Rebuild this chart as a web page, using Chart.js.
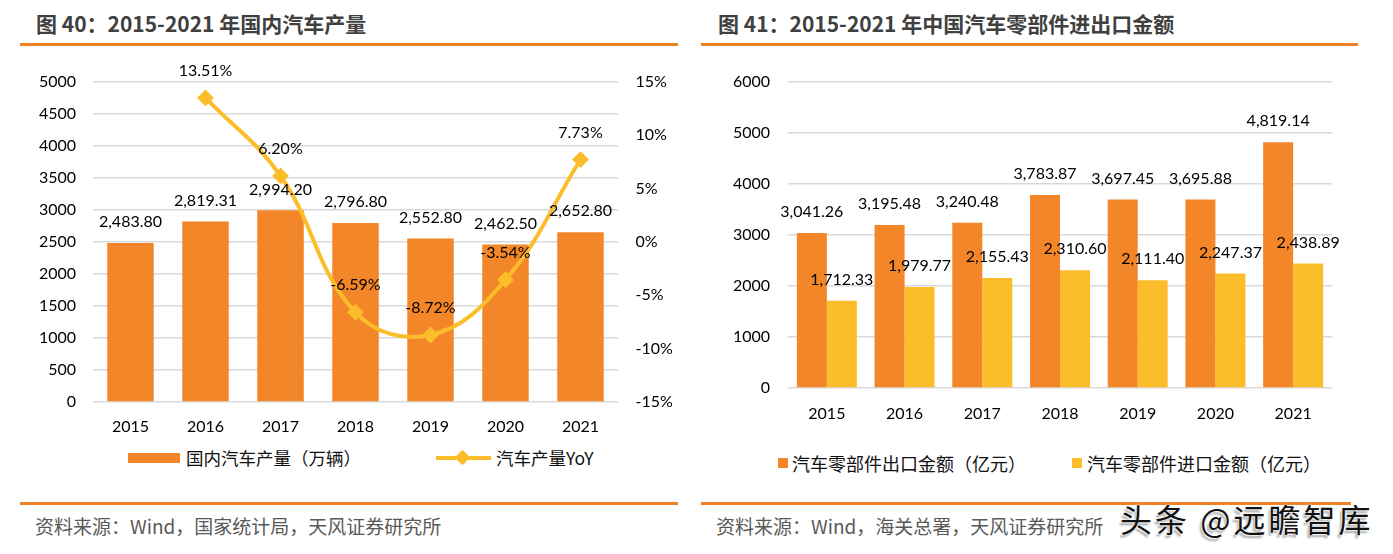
<!DOCTYPE html>
<html>
<head>
<meta charset="utf-8">
<script src="https://cdn.jsdelivr.net/npm/chart.js@4.4.1/dist/chart.umd.min.js"></script>
<style>
  html, body { margin: 0; padding: 0; background: #fff; }
  body { width: 1393px; height: 554px; position: relative; overflow: hidden; font-family: "Noto Sans CJK SC", sans-serif; }
  .abs { position: absolute; white-space: nowrap; }
  .title { font-size: 21px; font-weight: bold; color: #404040; height: 30px; line-height: 30px; }
  .rule { position: absolute; height: 3px; background: #F08226; }
  .src { font-size: 19px; color: #595959; height: 28px; line-height: 28px; }
  .leg { font-size: 17.5px; color: #111; height: 26px; line-height: 26px; }
  canvas { position: absolute; }
  .wm { font-size: 32px; color: #111; letter-spacing: 3px; height: 40px; line-height: 40px;
        text-shadow: 0 0 2px #fff, 0 0 2px #fff, -2px 3px 2px rgba(0,0,0,0.35); }
</style>
</head>
<body>
<div class="abs title" style="left:36px; top:8px;">图 40：2015-2021 年国内汽车产量</div>
<div class="abs title" style="left:718px; top:8px;">图 41：2015-2021 年中国汽车零部件进出口金额</div>
<div class="rule" style="left:20px; width:658px; top:43px;"></div>
<div class="rule" style="left:701px; width:657px; top:43px;"></div>

<canvas id="c1" width="690" height="445" style="left:0; top:0;"></canvas>
<canvas id="c2" width="693" height="440" style="left:700px; top:0;"></canvas>

<!-- left legend -->
<div class="abs" style="left:128px; top:453px; width:52px; height:10px; background:#F4862A;"></div>
<div class="abs leg" style="left:186px; top:445px;">国内汽车产量（万辆）</div>
<div class="abs" style="left:436px; top:456px; width:55px; height:4px; background:#FCBD2B;"></div>
<div class="abs" style="left:457px; top:452px; width:11px; height:11px; background:#FCBD2B; transform:rotate(45deg);"></div>
<div class="abs leg" style="left:496px; top:445px;">汽车产量YoY</div>

<!-- right legend -->
<div class="abs" style="left:778px; top:458px; width:10px; height:10px; background:#F4862A;"></div>
<div class="abs leg" style="left:792px; top:450px; font-size:18px;">汽车零部件出口金额（亿元）</div>
<div class="abs" style="left:1072px; top:458px; width:10px; height:10px; background:#FCBD2B;"></div>
<div class="abs leg" style="left:1087px; top:450px; font-size:18px;">汽车零部件进口金额（亿元）</div>

<div class="rule" style="left:20px; width:658px; top:502px;"></div>
<div class="rule" style="left:701px; width:650px; top:502px;"></div>

<div class="abs src" style="left:35px; top:512px;">资料来源：Wind，国家统计局，天风证券研究所</div>
<div class="abs src" style="left:716px; top:512px;">资料来源：Wind，海关总署，天风证券研究所</div>

<div class="abs wm" style="left:1120px; top:498px;">头条 @远瞻智库</div>

<script>
// ---------- data ----------
const years = ['2015', '2016', '2017', '2018', '2019', '2020', '2021'];
const productionName = '国内汽车产量（万辆）';
const production = [2483.80, 2819.31, 2994.20, 2796.80, 2552.80, 2462.50, 2652.80];
const yoyName = '汽车产量YoY';
const yoy = [null, 13.51, 6.20, -6.59, -8.72, -3.54, 7.73];
const exportName = '汽车零部件出口金额（亿元）';
const exportValues = [3041.26, 3195.48, 3240.48, 3783.87, 3697.45, 3695.88, 4819.14];
const importName = '汽车零部件进口金额（亿元）';
const importValues = [1712.33, 1979.77, 2155.43, 2310.60, 2111.40, 2247.37, 2438.89];
const leftTicks = { min: 0, max: 5000, step: 500 };
const pctTicks = { min: -15, max: 15, step: 5 };
const rightTicks = { min: 0, max: 6000, step: 1000 };

// ---------- styling ----------
const ORANGE = '#F4862A';
const YELLOW = '#FCBD2B';
const GRID = '#D9D9D9';
const FONT = 'Lato, "Noto Sans CJK SC", sans-serif';

Chart.defaults.font.family = FONT;
Chart.defaults.font.size = 16;
Chart.defaults.color = '#000';

const numFmt = new Intl.NumberFormat('en-US', { minimumFractionDigits: 2, maximumFractionDigits: 2 });

const valueLabels = {
  id: 'valueLabels',
  afterDatasetsDraw(chart) {
    const ctx = chart.ctx;
    chart.data.datasets.forEach((ds, i) => {
      const meta = chart.getDatasetMeta(i);
      const isLine = meta.type === 'line';
      meta.data.forEach((el, j) => {
        const v = ds.data[j];
        if (v === null || v === undefined) return;
        const txt = isLine ? v.toFixed(2) + '%' : numFmt.format(v);
        const off = isLine ? 27 : 21;
        ctx.save();
        ctx.font = '16px ' + FONT;
        ctx.fillStyle = '#000';
        ctx.textAlign = 'center';
        ctx.textBaseline = 'middle';
        ctx.fillText(txt, el.x, el.y - off);
        ctx.restore();
      });
    });
  }
};

// ---------- left chart ----------
new Chart(document.getElementById('c1'), {
  data: {
    labels: years,
    datasets: [
      {
        type: 'line', label: yoyName, data: yoy, yAxisID: 'y1', order: 0,
        borderColor: YELLOW, backgroundColor: YELLOW, borderWidth: 4,
        pointStyle: 'rectRot', pointRadius: 7, pointBorderWidth: 2,
        pointBackgroundColor: YELLOW, pointBorderColor: YELLOW,
        tension: 0.4, cubicInterpolationMode: 'default'
      },
      {
        type: 'bar', label: productionName, data: production, yAxisID: 'y', order: 1,
        backgroundColor: ORANGE, barPercentage: 0.62, categoryPercentage: 1
      }
    ]
  },
  options: {
    responsive: false, animation: false, devicePixelRatio: 1,
    layout: { padding: { top: 82, left: 0, right: 0, bottom: 0 } },
    plugins: { legend: { display: false }, tooltip: { enabled: false } },
    scales: {
      x: {
        grid: { display: false }, border: { display: false },
        ticks: { padding: 7.5, color: '#000' },
        afterFit: s => { s.height = 43; }
      },
      y: {
        position: 'left', min: leftTicks.min, max: leftTicks.max,
        ticks: { stepSize: leftTicks.step, padding: 17, color: '#000', callback: v => String(v) },
        grid: { color: GRID, lineWidth: 1.5, drawTicks: false }, border: { display: false },
        afterFit: s => { s.width = 93; }
      },
      y1: {
        position: 'right', min: pctTicks.min, max: pctTicks.max,
        ticks: { stepSize: pctTicks.step, padding: 17.5, color: '#000', callback: v => v + '%' },
        grid: { display: false, drawTicks: false }, border: { display: false },
        afterFit: s => { s.width = 72; }
      }
    }
  },
  plugins: [valueLabels]
});

// ---------- right chart ----------
new Chart(document.getElementById('c2'), {
  type: 'bar',
  data: {
    labels: years,
    datasets: [
      { label: exportName, data: exportValues, backgroundColor: ORANGE, barPercentage: 1, categoryPercentage: 0.772 },
      { label: importName, data: importValues, backgroundColor: YELLOW, barPercentage: 1, categoryPercentage: 0.772 }
    ]
  },
  options: {
    responsive: false, animation: false, devicePixelRatio: 1,
    layout: { padding: { top: 82, left: 0, right: 61, bottom: 0 } },
    plugins: { legend: { display: false }, tooltip: { enabled: false } },
    scales: {
      x: {
        grid: { display: false }, border: { display: false },
        ticks: { padding: 8.4, color: '#000' },
        afterFit: s => { s.height = 52; }
      },
      y: {
        min: rightTicks.min, max: rightTicks.max,
        ticks: { stepSize: rightTicks.step, padding: 18, color: '#000', callback: v => String(v) },
        grid: { color: GRID, lineWidth: 1.5, drawTicks: false }, border: { display: false },
        afterFit: s => { s.width = 88; }
      }
    }
  },
  plugins: [valueLabels]
});
</script>
</body>
</html>
